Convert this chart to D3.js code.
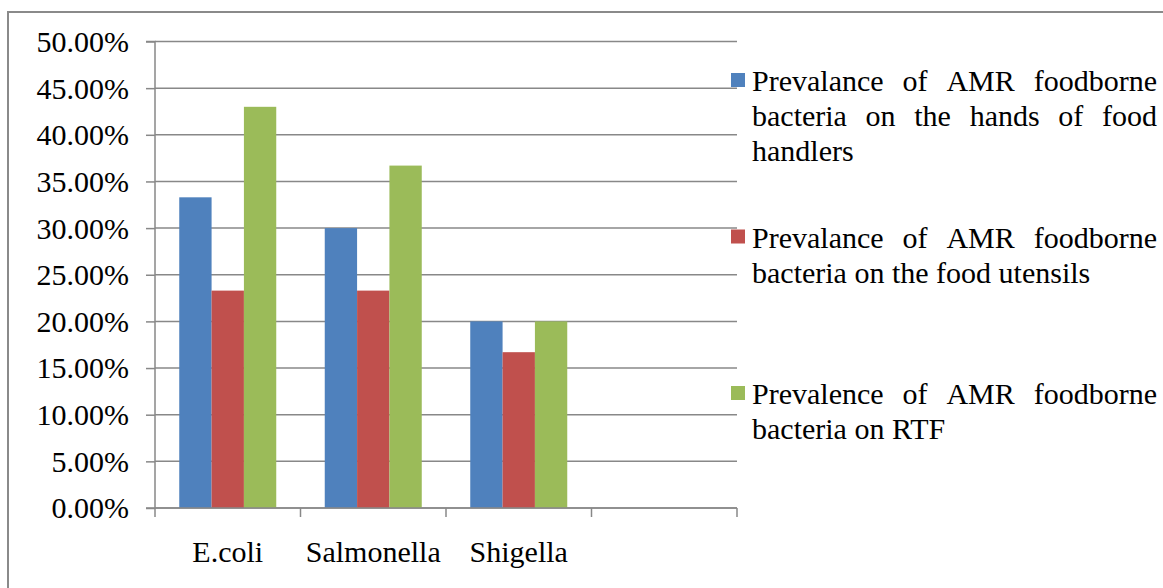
<!DOCTYPE html>
<html><head><meta charset="utf-8">
<script src="https://cdn.jsdelivr.net/npm/d3@7"></script>
<style>
html,body{margin:0;padding:0;background:#fff;}
svg{display:block;font-family:"Liberation Serif","Times New Roman",serif;}
</style></head>
<body>
<svg id="chart" width="1163" height="588"></svg>
<script>
const categories = ["E.coli", "Salmonella", "Shigella", ""];
const seriesNames = [
  "Prevalance of AMR foodborne bacteria on the hands of food handlers",
  "Prevalance of AMR foodborne bacteria on the food utensils",
  "Prevalence of AMR foodborne bacteria on RTF"
];
const handsValues = [0.333, 0.300, 0.200, null];
const utensilsValues = [0.233, 0.233, 0.167, null];
const rtfValues = [0.430, 0.367, 0.200, null];
const yTicks = [0, 0.05, 0.10, 0.15, 0.20, 0.25, 0.30, 0.35, 0.40, 0.45, 0.50];
const colors = ["#4F81BD", "#C0504D", "#9BBB59"];

(function () {
const series = [handsValues, utensilsValues, rtfValues];
const svg = d3.select("#chart");
const pLeft = 155, pRight = 737, pTop = 41.5, pBottom = 508;
const gridColor = "#888888";
const fontSize = 30;
const fontFam = "'Liberation Serif','Times New Roman',serif";

// outer frame
svg.append("path").attr("d", "M8,600 L8,12 L1170,12")
  .attr("fill", "none").attr("stroke", "#8a8a8a").attr("stroke-width", 2);

const x = d3.scaleBand().domain(d3.range(categories.length)).range([pLeft, pRight]).paddingInner(0).paddingOuter(0);
const y = d3.scaleLinear().domain([0, 0.5]).range([pBottom, pTop]);
const inner = d3.scaleBand().domain(d3.range(series.length)).range([0, x.bandwidth()]).paddingOuter(0.75).paddingInner(0);

// gridlines
svg.append("g").selectAll("line").data(yTicks).join("line")
  .attr("x1", pLeft).attr("x2", pRight)
  .attr("y1", d => y(d)).attr("y2", d => y(d))
  .attr("stroke", gridColor).attr("stroke-width", 1.5);

// bars
series.forEach((vals, si) => {
  svg.append("g").selectAll("rect").data(vals.map((v, i) => ({v, i})).filter(d => d.v != null)).join("rect")
    .attr("x", d => x(d.i) + inner(si))
    .attr("width", inner.bandwidth())
    .attr("y", d => y(d.v))
    .attr("height", d => y(0) - y(d.v))
    .attr("fill", colors[si]);
});

// y axis
const yAxis = d3.axisLeft(y).tickValues(yTicks).tickFormat(d3.format(".2%")).tickSize(9).tickPadding(17);
const gy = svg.append("g").attr("transform", `translate(${pLeft},0)`).call(yAxis);
gy.attr("font-family", fontFam);
gy.select(".domain").attr("stroke", gridColor).attr("stroke-width", 1.5).attr("d", `M-9,${pTop}H0V${pBottom}H-9`);
gy.selectAll(".tick line").attr("stroke", gridColor).attr("stroke-width", 1.5);
gy.selectAll(".tick text").attr("font-size", fontSize).attr("font-family", fontFam).attr("fill", "#000").attr("dy", "0.33em");

// x axis
const xEdges = d3.range(categories.length + 1).map(i => pLeft + i * x.bandwidth());
const gx = svg.append("g").attr("font-family", fontFam);
gx.append("line").attr("x1", pLeft).attr("x2", pRight).attr("y1", pBottom).attr("y2", pBottom)
  .attr("stroke", gridColor).attr("stroke-width", 1.5);
gx.selectAll("line.t").data(xEdges).join("line").attr("class", "t")
  .attr("x1", d => d).attr("x2", d => d).attr("y1", pBottom).attr("y2", pBottom + 9)
  .attr("stroke", gridColor).attr("stroke-width", 1.5);
gx.selectAll("text").data(categories).join("text")
  .attr("x", (d, i) => x(i) + x.bandwidth() / 2).attr("y", 562)
  .attr("text-anchor", "middle").attr("font-size", fontSize).attr("fill", "#000")
  .text(d => d);

// legend with justified wrapping
const legX = 731, textX = 752, textRight = 1157, lineH = 35;
const baselines = [91, 247.5, 404];
const measure = svg.append("text").attr("font-size", fontSize).attr("font-family", fontFam).attr("visibility", "hidden");
function w(s) { measure.text(s); return measure.node().getComputedTextLength(); }
seriesNames.forEach((name, si) => {
  const g = svg.append("g").attr("font-family", fontFam);
  g.append("rect").attr("x", legX).attr("y", baselines[si] - 18).attr("width", 14).attr("height", 14).attr("fill", colors[si]);
  const words = name.split(" ");
  const lines = [];
  let cur = [];
  words.forEach(wd => {
    const trial = cur.concat([wd]).join(" ");
    if (cur.length && w(trial) > textRight - textX) { lines.push(cur); cur = [wd]; }
    else cur.push(wd);
  });
  if (cur.length) lines.push(cur);
  lines.forEach((ln, li) => {
    const by = baselines[si] + li * lineH;
    const t = g.append("text").attr("font-size", fontSize).attr("fill", "#000").attr("y", by);
    if (li < lines.length - 1 && ln.length > 1) {
      const ws = ln.map(wd => w(wd));
      const total = d3.sum(ws);
      const gap = (textRight - textX - total) / (ln.length - 1);
      let cx = textX;
      ln.forEach((wd, k) => {
        t.append("tspan").attr("x", cx).text(wd);
        cx += ws[k] + gap;
      });
    } else {
      t.attr("x", textX).text(ln.join(" "));
    }
  });
});
measure.remove();
})();
</script>
</body></html>
